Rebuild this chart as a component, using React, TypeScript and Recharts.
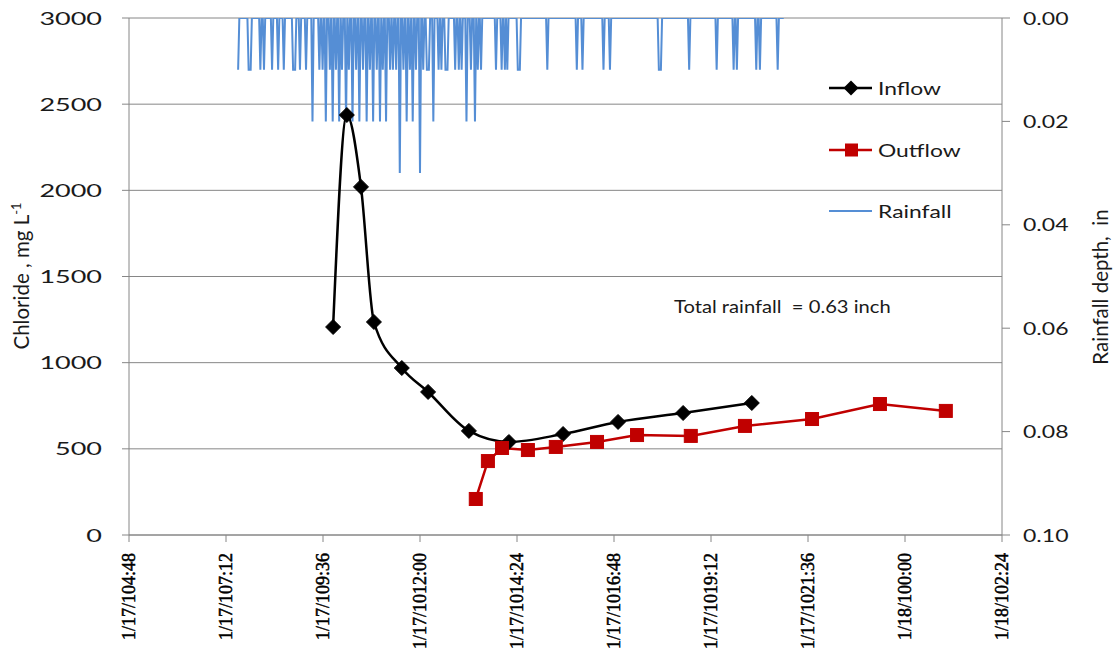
import React from 'react';
import { ComposedChart, Line, XAxis, YAxis, CartesianGrid, Legend, Customized } from 'recharts';

// ---- data (hours since 1/17/10 0:00) ----
const inflowHours = [9.85, 10.19, 10.54, 10.86, 11.55, 12.2, 13.21, 14.2, 15.54, 16.9, 18.51, 20.21];
const inflowChloride = [1207, 2437, 2020, 1236, 969, 830, 604, 540, 586, 656, 708, 766];

const outflowHours = [13.38, 13.68, 14.03, 14.67, 15.36, 16.38, 17.37, 18.7, 20.04, 21.7, 23.38, 25.01];
const outflowChloride = [209, 429, 505, 493, 511, 540, 580, 575, 633, 673, 760, 720];

const rainHours = [
  7.5, 7.76, 7.81, 8.05, 8.14, 8.34, 8.49, 8.63, 8.86, 8.91, 9.03, 9.18, 9.34, 9.51, 9.59, 9.67, 9.77, 9.84,
  9.92, 10.0, 10.07, 10.17, 10.24, 10.33, 10.42, 10.5, 10.59, 10.68, 10.76, 10.84, 10.93, 11.01, 11.08, 11.16,
  11.26, 11.33, 11.41, 11.5, 11.59, 11.67, 11.75, 11.82, 11.9, 12.0, 12.08, 12.17, 12.22, 12.33, 12.46, 12.53,
  12.63, 12.68, 12.87, 12.96, 13.03, 13.15, 13.26, 13.36, 13.43, 13.51, 13.88, 14.02, 14.1, 14.16, 14.42, 14.47,
  15.15, 15.88, 16.02, 16.54, 16.7, 17.91, 17.96, 18.66, 19.34, 19.76, 19.84, 20.32, 20.41, 20.85,
];
const rainDepth = [
  0.01, 0.01, 0.01, 0.01, 0.01, 0.01, 0.01, 0.01, 0.01, 0.01, 0.01, 0.01, 0.02, 0.01, 0.01, 0.02, 0.01, 0.02,
  0.01, 0.02, 0.01, 0.02, 0.01, 0.02, 0.01, 0.02, 0.01, 0.02, 0.01, 0.02, 0.01, 0.02, 0.01, 0.02,
  0.01, 0.01, 0.01, 0.03, 0.01, 0.02, 0.01, 0.02, 0.01, 0.03, 0.01, 0.01, 0.01, 0.02, 0.01, 0.01,
  0.01, 0.01, 0.01, 0.01, 0.01, 0.02, 0.01, 0.02, 0.01, 0.01, 0.01, 0.01, 0.01, 0.01, 0.01, 0.01,
  0.01, 0.01, 0.01, 0.01, 0.01, 0.01, 0.01, 0.01, 0.01, 0.01, 0.01, 0.01, 0.01, 0.01,
];
const rainEndHour = 21.0; // zero readings continue to here

const xTicks = [4.8, 7.2, 9.6, 12, 14.4, 16.8, 19.2, 21.6, 24, 26.4];
const leftTicks = [0, 500, 1000, 1500, 2000, 2500, 3000];
const rightTicks = [0, 0.02, 0.04, 0.06, 0.08, 0.1];

const legendNames = ['Inflow', 'Outflow', 'Rainfall'];
const totalRainText = 'Total rainfall  = 0.63 inch';

// ---- tables built from the arrays ----
const inflowData = inflowHours.map((t, i) => ({ t, v: inflowChloride[i] }));
const outflowData = outflowHours.map((t, i) => ({ t, v: outflowChloride[i] }));

// tipping record: zero readings between separate tips
const rainData: { t: number; r: number }[] = [];
rainHours.forEach((t, i) => {
  if (i > 0) {
    const prev = rainHours[i - 1];
    if (t - prev > 0.06) {
      rainData.push({ t: prev + 0.03, r: 0 });
      rainData.push({ t: t - 0.03, r: 0 });
    }
  }
  rainData.push({ t, r: rainDepth[i] });
});
rainData.push({ t: rainHours[rainHours.length - 1] + 0.03, r: 0 });
rainData.push({ t: rainEndHour, r: 0 });

const SANS = 'Lato, "Open Sans", sans-serif';
const SERIF = "'Liberation Serif', 'DejaVu Serif', serif";
const GRID = '#868686';
const BLUE = '#558ED5';
const RED = '#C00000';
const TEXT = '#1a1a1a';

const fmtTime = (t: number) => {
  const mins = Math.round(t * 60);
  const day = 17 + Math.floor(mins / 1440);
  const rem = mins % 1440;
  const h = Math.floor(rem / 60);
  const m = rem % 60;
  return `1/${day}/10${h}:${m < 10 ? '0' + m : m}`;
};

const SText = ({ x, y, sx = 1, anchor = 'start', size = 18, children }: any) => (
  <text
    transform={`translate(${x},${y}) scale(${sx},1)`}
    textAnchor={anchor}
    fontSize={size}
    fontFamily={SANS}
    fill={TEXT}
    style={{ whiteSpace: 'pre' }}
  >
    {children}
  </text>
);

const XTick = ({ x, y, payload }: any) => (
  <text
    transform={`translate(${x + 6},${y}) rotate(-90)`}
    textAnchor="end"
    fill="#000"
    stroke="#000"
    strokeWidth={0.5}
    style={{ fontFamily: SERIF, fontSize: 18 }}
  >
    {fmtTime(payload.value)}
  </text>
);

const LeftTick = ({ x, y, payload }: any) => (
  <SText x={x} y={y + 6.5} sx={1.5} anchor="end">
    {payload.value}
  </SText>
);

const RightTick = ({ x, y, payload }: any) => (
  <SText x={x} y={y + 6.5} sx={1.28} anchor="start">
    {payload.value.toFixed(2)}
  </SText>
);

const Diamond = (props: any) => {
  const { cx, cy } = props;
  if (cx == null || cy == null) return null;
  const s = 7.5;
  return <polygon points={`${cx},${cy - s} ${cx + s},${cy} ${cx},${cy + s} ${cx - s},${cy}`} fill="#000" stroke="#000" />;
};

const Square = (props: any) => {
  const { cx, cy } = props;
  if (cx == null || cy == null) return null;
  const s = 6.5;
  return <rect x={cx - s} y={cy - s} width={2 * s} height={2 * s} fill={RED} stroke={RED} />;
};

const LegendBox = () => (
  <svg width={160} height={170} style={{ overflow: 'visible' }}>
    <g transform="translate(-820,-60)">
      <line x1={829} x2={872} y1={88} y2={88} stroke="#000" strokeWidth={2.5} />
      <polygon points="851,80.5 858.5,88 851,95.5 843.5,88" fill="#000" />
      <SText x={878} y={94.5} sx={1.27}>{legendNames[0]}</SText>
      <line x1={829} x2={872} y1={150} y2={150} stroke={RED} strokeWidth={2.5} />
      <rect x={845} y={143.5} width={13} height={13} fill={RED} />
      <SText x={878} y={156.5} sx={1.27}>{legendNames[1]}</SText>
      <line x1={829} x2={872} y1={211} y2={211} stroke={BLUE} strokeWidth={1.8} />
      <SText x={878} y={217.5} sx={1.27}>{legendNames[2]}</SText>
    </g>
  </svg>
);

const Annotations = () => (
  <g>
    <SText x={674} y={312.5} sx={1.12}>{totalRainText}</SText>
    <text transform="translate(29,276) rotate(-90)" textAnchor="middle" fontSize={20.5} fontFamily={SANS} fill={TEXT}>
      Chloride , mg L
      <tspan dy={-8} fontSize={13}>-1</tspan>
    </text>
    <text
      transform="translate(1108,287) rotate(-90)"
      textAnchor="middle"
      fontSize={20.5}
      fontFamily={SANS}
      fill={TEXT}
      style={{ whiteSpace: 'pre' }}
    >
      {'Rainfall depth,  in'}
    </text>
  </g>
);

export default function App() {
  return (
    <div style={{ position: 'absolute', left: 0, top: 0, width: 1117, height: 665, background: '#fff' }}>
      <ComposedChart width={1117} height={665} margin={{ top: 18, left: 49, right: 35, bottom: 30 }}>
        <CartesianGrid yAxisId="left" vertical={false} stroke={GRID} strokeWidth={1} />
        <XAxis
          dataKey="t"
          type="number"
          domain={[4.8, 26.4]}
          ticks={xTicks}
          allowDataOverflow
          height={100}
          stroke={GRID}
          tickSize={7}
          tickMargin={11}
          tick={<XTick />}
          interval={0}
        />
        <YAxis
          yAxisId="left"
          domain={[0, 3000]}
          ticks={leftTicks}
          width={80}
          stroke={GRID}
          tickSize={7}
          tickMargin={20}
          tick={<LeftTick />}
          interval={0}
        />
        <YAxis
          yAxisId="right"
          orientation="right"
          domain={[0, 0.1]}
          reversed
          ticks={rightTicks}
          width={80}
          stroke={GRID}
          tickSize={8}
          tickMargin={13}
          tick={<RightTick />}
          interval={0}
          allowDataOverflow
        />
        <Line
          yAxisId="left"
          data={inflowData}
          dataKey="v"
          name="Inflow"
          type="monotone"
          stroke="#000"
          strokeWidth={2.5}
          dot={<Diamond />}
          activeDot={false}
          isAnimationActive={false}
        />
        <Line
          yAxisId="left"
          data={outflowData}
          dataKey="v"
          name="Outflow"
          type="linear"
          stroke={RED}
          strokeWidth={2.5}
          dot={<Square />}
          activeDot={false}
          isAnimationActive={false}
        />
        <Line
          yAxisId="right"
          data={rainData}
          dataKey="r"
          name="Rainfall"
          type="linear"
          stroke={BLUE}
          strokeWidth={2}
          dot={false}
          activeDot={false}
          isAnimationActive={false}
        />
        <Legend
          layout="vertical"
          align="center"
          verticalAlign="middle"
          content={<LegendBox />}
          wrapperStyle={{ position: 'absolute', left: 820, top: 60, width: 160, height: 170 }}
        />
        <Customized component={<Annotations />} />
      </ComposedChart>
    </div>
  );
}
